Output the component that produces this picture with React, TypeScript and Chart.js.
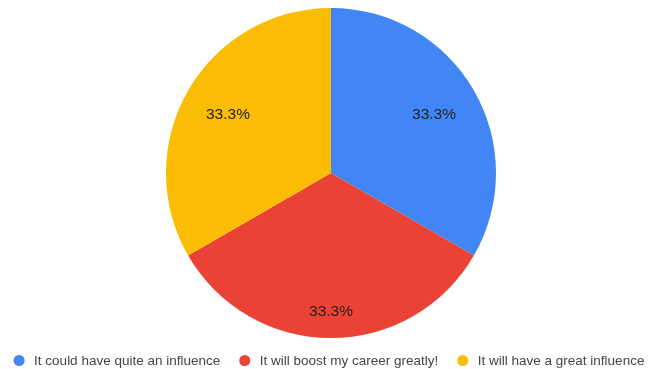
import React, { useEffect, useRef } from "react";
import Chart from "chart.js/auto";

const categories: string[] = [
  "It could have quite an influence",
  "It will boost my career greatly!",
  "It will have a great influence",
];
const values: number[] = [1, 1, 1];
const colors: string[] = ["#4285F4", "#EA4335", "#FBBC04"];

const FONT = "Arial, 'Liberation Sans', Helvetica, sans-serif";

const sliceLabels = {
  id: "sliceLabels",
  afterDatasetsDraw(chart: any) {
    const { ctx } = chart;
    const meta = chart.getDatasetMeta(0);
    const data = chart.data.datasets[0].data as number[];
    const total = data.reduce((a, b) => a + b, 0);
    const size = 15.5;
    ctx.save();
    ctx.font = `${size}px ${FONT}`;
    ctx.fillStyle = "#222222";
    ctx.textAlign = "center";
    ctx.textBaseline = "alphabetic";
    meta.data.forEach((arc: any, i: number) => {
      const { x, y, startAngle, endAngle, outerRadius } = arc.getProps(
        ["x", "y", "startAngle", "endAngle", "outerRadius"],
        true
      );
      const mid = (startAngle + endAngle) / 2;
      const s = Math.abs(Math.sin(mid));
      const r = outerRadius * (0.606 + 0.23 * s);
      const pct = ((data[i] / total) * 100).toFixed(1) + "%";
      ctx.fillText(
        pct,
        x + Math.cos(mid) * r,
        y + Math.sin(mid) * r + size * 0.716 / 2
      );
    });
    ctx.restore();
  },
};

const bottomLegend = {
  id: "bottomLegend",
  afterDraw(chart: any) {
    const { ctx } = chart;
    const labels = chart.data.labels as string[];
    const bg = chart.data.datasets[0].backgroundColor as string[];
    const size = 13.5;
    ctx.save();
    ctx.font = `${size}px ${FONT}`;
    const dotR = 5.5;
    const dotToText = 15;
    const itemGap = 19;
    const widths = labels.map((l) => ctx.measureText(l).width);
    const total =
      widths.reduce((a, w) => a + dotR + dotToText + w, 0) +
      itemGap * (labels.length - 1);
    let x = 329 - total / 2;
    const y = 360.5;
    labels.forEach((l, i) => {
      ctx.fillStyle = bg[i];
      ctx.beginPath();
      ctx.arc(x + dotR, y, dotR, 0, Math.PI * 2);
      ctx.fill();
      ctx.fillStyle = "#444444";
      ctx.textAlign = "left";
      ctx.textBaseline = "alphabetic";
      ctx.fillText(l, x + dotR + dotToText, y + size * 0.716 / 2);
      x += dotR + dotToText + widths[i] + itemGap;
    });
    ctx.restore();
  },
};

export default function App() {
  const ref = useRef<HTMLCanvasElement | null>(null);
  useEffect(() => {
    document.body.style.margin = "0";
    const chart = new Chart(ref.current!, {
      type: "pie",
      data: {
        labels: categories,
        datasets: [
          {
            data: values,
            backgroundColor: colors,
            borderWidth: 0,
          },
        ],
      },
      options: {
        animation: false,
        responsive: false,
        rotation: 0,
        layout: { padding: { top: 8, bottom: 31, left: 166, right: 152 } },
        plugins: {
          legend: { display: false },
          tooltip: { enabled: false },
        },
      },
      plugins: [sliceLabels, bottomLegend],
    });
    return () => chart.destroy();
  }, []);
  return (
    <div style={{ width: 648, height: 369, background: "#ffffff" }}>
      <canvas ref={ref} width={648} height={369} />
    </div>
  );
}
